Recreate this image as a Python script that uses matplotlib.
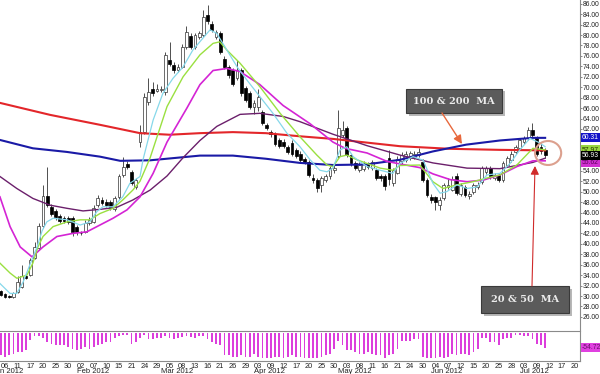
import numpy as np
import matplotlib
matplotlib.use('Agg')
import matplotlib.pyplot as plt
from matplotlib.patches import Rectangle, Ellipse, FancyArrowPatch
from matplotlib.transforms import blended_transform_factory

plt.rcParams['font.family'] = ['Liberation Sans', 'DejaVu Sans']

# trading day index: 0 = 3 Jan 2012, first candle drawn is 5 Jan (index 2)
first_day = 2

opens = [30.9, 30.4, 29.95, 29.9, 30.8, 31.8, 33.9, 34.0, 37.3, 39.2,
         43.4, 49.1, 47.1, 46.2, 45.3, 44.9, 45.0, 45.0, 43.2, 42.1,
         42.3, 44.0, 44.2, 47.4, 48.4, 48.1, 48.1, 46.6, 49.0, 53.2,
         55.2, 53.8, 50.9, 59.6, 61.5, 67.2, 69.6, 69.3, 69.4, 69.0,
         75.2, 74.3, 73.3, 73.9, 77.8, 79.8, 77.8, 79.6, 80.0, 83.8,
         82.2, 79.7, 80.3, 75.5, 73.9, 73.3, 71.7, 73.3, 69.8, 68.8,
         66.3, 66.3, 65.3, 62.8, 61.4, 61.0, 59.8, 59.6, 58.6, 59.4,
         58.0, 57.3, 56.2, 55.7, 52.7, 52.2, 51.3, 52.2, 52.9, 54.1,
         56.8, 60.9, 62.1, 57.0, 55.4, 54.2, 54.3, 55.2, 54.6, 54.1,
         52.9, 52.9, 56.4, 51.6, 53.6, 55.8, 56.1, 56.5, 56.7, 57.1,
         55.7, 52.2, 49.0, 48.9, 47.4, 48.7, 50.8, 50.4, 52.9, 49.5,
         50.9, 49.1, 50.0, 50.9, 51.9, 53.8, 54.5, 52.6, 53.2, 52.3,
         55.1, 56.1, 57.6, 58.3, 59.6, 60.2, 61.8, 60.2, 58.6, 57.9]
highs = [31.2, 30.6, 30.2, 30.8, 33.8, 36.0, 34.4, 37.3, 40.3, 44.0,
         51.3, 54.8, 47.6, 46.6, 45.8, 45.3, 45.4, 45.3, 43.6, 42.5,
         44.6, 45.2, 47.4, 49.3, 48.9, 48.5, 48.4, 49.2, 53.4, 56.7,
         55.8, 54.2, 52.6, 62.8, 68.8, 71.8, 71.0, 70.6, 70.2, 76.8,
         78.7, 74.8, 74.4, 78.2, 81.7, 80.3, 80.4, 80.8, 84.8, 85.7,
         82.6, 81.0, 80.7, 76.0, 74.2, 73.7, 75.2, 73.7, 70.2, 69.2,
         67.5, 69.6, 65.7, 63.2, 61.9, 61.4, 60.2, 60.0, 59.0, 59.8,
         58.4, 57.7, 56.6, 56.0, 53.4, 52.6, 53.0, 53.4, 55.0, 55.4,
         65.6, 63.6, 62.5, 57.3, 55.8, 55.7, 55.8, 55.6, 56.0, 54.5,
         53.3, 53.3, 58.0, 54.5, 56.9, 57.5, 57.7, 57.8, 57.7, 58.4,
         56.2, 52.6, 49.6, 49.2, 49.0, 51.6, 52.6, 53.0, 53.6, 51.6,
         51.3, 50.1, 51.7, 51.8, 55.0, 54.9, 54.9, 53.6, 53.6, 55.8,
         56.8, 57.7, 59.0, 60.3, 60.6, 62.3, 63.1, 60.6, 59.3, 58.3]
lows = [30.0, 29.6, 29.6, 29.7, 30.5, 31.5, 33.2, 33.8, 37.0, 38.8,
        43.0, 47.0, 45.4, 44.6, 44.0, 43.9, 43.8, 41.5, 41.6, 41.6,
        42.0, 43.6, 43.9, 47.0, 47.5, 47.0, 46.4, 46.2, 48.6, 52.8,
        54.3, 51.2, 50.5, 58.6, 61.0, 66.5, 68.4, 69.0, 69.0, 68.6,
        74.0, 72.8, 72.9, 73.6, 77.4, 77.3, 77.4, 79.2, 79.7, 82.2,
        80.6, 79.3, 76.4, 73.4, 71.8, 70.3, 71.3, 68.3, 67.2, 65.9,
        64.9, 65.4, 62.7, 61.8, 60.5, 58.8, 58.4, 58.3, 57.2, 56.9,
        56.4, 55.7, 55.2, 52.8, 51.7, 50.0, 50.0, 51.8, 52.5, 53.6,
        56.5, 60.5, 56.6, 55.0, 54.1, 53.8, 53.9, 54.3, 54.2, 52.2,
        52.0, 50.4, 51.3, 51.0, 53.3, 55.3, 55.6, 56.0, 56.3, 56.6,
        51.8, 49.0, 47.8, 46.5, 46.5, 48.4, 50.5, 50.1, 49.3, 49.1,
        49.0, 48.6, 49.6, 50.5, 51.5, 53.3, 52.5, 52.2, 51.8, 51.9,
        54.7, 55.7, 57.2, 57.9, 59.2, 59.8, 60.5, 56.9, 57.2, 56.5]
closes = [30.2, 29.9, 29.85, 30.6, 32.7, 33.8, 33.4, 36.9, 39.4, 43.4,
          49.1, 47.4, 45.8, 45.2, 44.4, 44.3, 44.1, 42.2, 42.3, 42.0,
          44.0, 44.6, 46.9, 48.8, 47.9, 47.4, 46.8, 48.8, 52.9, 54.8,
          54.8, 51.6, 52.2, 61.5, 68.2, 69.0, 68.9, 69.6, 69.7, 76.2,
          74.4, 73.3, 73.9, 77.8, 80.6, 77.8, 80.0, 80.3, 83.5, 82.6,
          81.0, 80.6, 76.8, 73.9, 72.3, 70.7, 73.3, 68.8, 67.6, 66.3,
          66.9, 68.2, 63.1, 62.2, 61.0, 59.2, 58.8, 58.8, 57.6, 57.3,
          56.8, 56.1, 55.7, 53.2, 52.2, 50.6, 52.6, 52.9, 54.5, 54.6,
          62.2, 61.8, 57.0, 55.4, 54.6, 55.1, 55.2, 54.8, 55.6, 52.6,
          52.6, 51.0, 52.4, 54.1, 56.3, 57.0, 57.2, 57.4, 57.3, 57.6,
          52.2, 49.4, 48.4, 48.1, 48.4, 51.3, 51.3, 52.5, 49.7, 51.2,
          49.4, 49.6, 51.3, 51.3, 54.5, 54.5, 52.9, 53.2, 52.2, 55.4,
          56.4, 57.3, 58.6, 59.9, 60.2, 61.8, 60.9, 57.3, 57.7, 56.93]

# Williams %R style histogram (lower panel)
wr_values = [-82, -88, -82, -76, -70, -70, -64, -25, -12, -10,
             -20, -35, -40, -44, -44, -46, -52, -58, -64, -58,
             -52, -58, -52, -46, -40, -35, -32, -17, -11, -6,
             -6, -40, -32, -17, -8, -23, -23, -20, -17, -11,
             -20, -23, -20, -14, -11, -14, -17, -12, -11, -23,
             -35, -40, -46, -82, -82, -88, -90, -82, -88, -88,
             -76, -88, -94, -94, -94, -88, -88, -94, -88, -82,
             -88, -88, -94, -94, -94, -94, -88, -82, -76, -58,
             -29, -46, -64, -64, -70, -76, -76, -70, -76, -82,
             -82, -94, -82, -76, -58, -29, -29, -29, -23, -23,
             -88, -94, -94, -94, -88, -94, -88, -76, -82, -76,
             -76, -82, -70, -58, -17, -17, -35, -35, -46, -23,
             -17, -17, -8, -8, -11, -11, -23, -40, -46, -54.72]

# moving averages (day index, price)
cyan_x = [1.8, 4.2, 5.8, 7.3, 8.9, 10.6, 11.8, 12.9, 14.4, 17.7, 20.8, 23.1, 24.8, 26.2, 28.6,
          30.9, 32.6, 35.0, 35.7, 38.1, 40.4, 42.8, 45.2, 47.5, 49.9, 51.6, 53.2, 55.6, 58.0, 60.3,
          63.4, 66.5, 69.8, 72.9, 75.3, 77.6, 79.3, 80.7, 82.4, 84.0, 85.5, 88.8, 91.9, 94.9, 96.6,
          99.7, 102.1, 104.4, 106.1, 107.7, 110.1, 112.5, 114.9, 117.2, 120.3, 122.7, 125.0, 127.4, 129.8, 131.0]
cyan_y = [32.4, 30.5, 30.5, 32.7, 36.0, 39.4, 42.5, 44.2, 44.9, 44.6, 43.6, 44.2, 46.2, 47.1, 47.1,
          49.0, 51.6, 52.9, 56.1, 63.7, 68.8, 71.7, 73.9, 77.1, 79.4, 81.0, 80.3, 77.1, 73.9, 71.4,
          68.2, 65.0, 61.2, 58.6, 56.1, 54.1, 53.8, 54.5, 58.0, 58.6, 56.7, 54.8, 54.1, 53.5, 55.4,
          56.7, 56.0, 51.6, 49.7, 50.0, 51.3, 50.6, 50.9, 53.2, 53.5, 55.4, 58.0, 60.2, 59.3, 58.6]
green_x = [1.8, 4.2, 5.8, 8.2, 9.6, 10.8, 12.0, 14.4, 17.7, 20.8, 23.1, 25.5, 28.6, 30.9, 33.3,
           35.0, 37.4, 41.4, 45.2, 49.2, 52.3, 53.9, 55.6, 58.7, 63.4, 68.2, 72.9, 76.9, 79.3, 80.7,
           82.4, 84.0, 86.4, 88.8, 91.9, 94.9, 96.6, 101.3, 104.4, 106.8, 110.1, 113.9, 117.2, 120.3,
           124.3, 128.1, 131.0]
green_y = [36.3, 34.4, 33.4, 34.0, 36.3, 39.4, 41.4, 43.3, 44.2, 44.6, 44.6, 45.8, 46.8, 48.4, 50.3,
           52.0, 56.5, 66.3, 72.0, 76.2, 78.4, 78.7, 77.1, 74.6, 70.1, 65.0, 60.5, 57.0, 55.1, 54.8,
           56.7, 57.0, 56.1, 55.4, 54.5, 54.1, 55.0, 55.1, 51.9, 50.6, 51.3, 51.9, 52.6, 53.2,
           55.1, 58.3, 58.0]
mag_x = [1.8, 4.2, 6.6, 9.4, 12.0, 15.3, 19.1, 22.4, 25.5, 28.6, 31.9, 35.0, 38.1, 41.4, 46.1,
         49.2, 52.3, 55.6, 58.7, 63.4, 68.9, 75.3, 80.7, 83.6, 88.8, 93.5, 96.6, 101.3, 104.4, 108.5,
         112.5, 116.3, 120.3, 124.3, 128.1, 131.0]
mag_y = [49.0, 43.3, 39.4, 37.5, 39.4, 41.4, 42.0, 42.3, 43.6, 44.9, 46.5, 49.0, 53.5, 59.5, 66.0,
         70.5, 73.2, 73.6, 73.0, 70.5, 66.5, 63.0, 59.5, 58.3, 57.4, 55.8, 55.3, 54.6, 53.4, 52.3,
         51.9, 52.2, 53.2, 54.8, 55.9, 55.9]
pur_x = [1.8, 5.8, 9.6, 13.7, 17.7, 21.5, 25.5, 29.5, 33.3, 37.4, 41.4, 45.2, 49.2, 53.2, 58.7,
         63.4, 68.9, 72.9, 80.7, 88.8, 96.6, 104.4, 112.5, 120.3, 128.1, 131.0]
pur_y = [52.9, 50.6, 48.7, 47.4, 46.8, 46.3, 46.6, 47.0, 48.4, 50.3, 53.0, 56.5, 59.8, 62.5, 64.8,
         65.0, 64.4, 63.4, 61.0, 58.8, 57.0, 55.5, 54.5, 54.4, 55.6, 56.4]
red_x = [1.8, 13.7, 25.5, 35.0, 42.0, 49.2, 57.0, 64.8, 72.9, 80.7, 96.6, 108.5, 120.3, 131.0]
red_y = [67.0, 64.7, 62.8, 61.2, 60.9, 61.2, 61.4, 61.2, 60.6, 60.1, 58.7, 58.2, 58.0, 57.9]
blue_x = [1.8, 9.6, 17.7, 25.5, 30.3, 37.4, 49.2, 57.0, 64.8, 72.9, 80.7, 88.6, 96.6, 104.4,
          112.3, 120.3, 128.1, 131.0]
blue_y = [59.9, 58.3, 57.6, 56.7, 55.9, 56.0, 56.9, 56.9, 56.3, 55.5, 55.1, 55.2, 56.1, 57.7,
          59.0, 59.8, 60.3, 60.3]

# axis labels
price_ticks = list(range(26, 88, 2))
day_labels = ['06', '11', '17', '20', '25', '30', '02', '07', '10', '15', '21', '24', '29',
              '05', '08', '13', '16', '21', '26', '29', '03', '09', '12', '17', '20', '25', '30',
              '03', '08', '11', '16', '21', '24', '30', '04', '07', '12', '15', '20', '25', '28',
              '03', '09', '12', '17', '20']
month_names = ['Jan 2012', 'Feb 2012', 'Mar 2012', 'Apr 2012', 'May 2012', 'Jun 2012', 'Jul 2012']
month_start = [0, 20, 40, 62, 82, 104, 125]

# last values shown on the price scale
last_labels = [('55.62', 55.62, '#d030d0', '#5a005a'),
               ('57.97', 57.97, '#99d640', '#223300'),
               ('60.31', 60.31, '#1414c8', 'white'),
               ('56.93', 56.93, '#000000', 'white')]

W, H = 600, 374
fig = plt.figure(figsize=(W / 100, H / 100), dpi=100)
ax = fig.add_axes([0, 1 - 330 / H, 580 / W, 330 / H])
ind = fig.add_axes([0, 1 - 361 / H, 580 / W, 30 / H])

xlim = (1.815, 139.26)

# candles
o = np.array(opens)
hi = np.array(highs)
lo = np.array(lows)
c = np.array(closes)
days = np.arange(first_day, first_day + len(c))
up = c >= o
body_low = np.minimum(o, c)
body_h = np.maximum(np.abs(c - o), 0.15)

ax.vlines(days, lo, hi, color='#333333', lw=0.6, zorder=3)
ax.bar(days[up], body_h[up], bottom=body_low[up], width=0.66,
       facecolor='white', edgecolor='#333333', lw=0.5, zorder=4)
ax.bar(days[~up], body_h[~up], bottom=body_low[~up], width=0.66,
       facecolor='black', edgecolor='black', lw=0.5, zorder=4)

# moving averages
ax.plot(red_x, red_y, color='#e3262a', lw=1.5, zorder=5)
ax.plot(blue_x, blue_y, color='#1a1aa6', lw=1.5, zorder=5)
ax.plot(pur_x, pur_y, color='#6b1f6b', lw=1.0, zorder=5)
ax.plot(mag_x, mag_y, color='#d424d4', lw=1.2, zorder=5)
ax.plot(green_x, green_y, color='#9ae040', lw=1.0, zorder=5)
ax.plot(cyan_x, cyan_y, color='#86d8ea', lw=0.9, zorder=5)

ax.set_xlim(*xlim)
ax.set_ylim(23.49, 86.71)
ax.yaxis.tick_right()
ax.set_yticks(price_ticks)
ax.set_yticklabels(['%.2f' % v for v in price_ticks])
ax.tick_params(axis='y', length=1.5, width=0.5, colors='#555555', labelcolor='#222222',
               labelsize=4.9, pad=0.6)
ax.set_xticks([])
for s in ['left', 'top', 'bottom']:
    ax.spines[s].set_visible(False)
ax.spines['right'].set_color('#8a8a8a')
ax.spines['right'].set_linewidth(0.8)

# circle around the last bars
ax.add_patch(Ellipse((131.7, 57.4), 6.2, 4.6, fill=False, ec='#dca08e', lw=1.5, zorder=6))

# last value boxes on the right scale
tr = blended_transform_factory(ax.transAxes, ax.transData)
for txt, val, bg, fg in last_labels:
    ax.text(1.003, val, txt, transform=tr, ha='left', va='center', fontsize=4.9,
            color=fg, clip_on=False, zorder=7,
            bbox=dict(boxstyle='square,pad=0.15', fc=bg, ec='none'))

# lower panel
ind.bar(days, wr_values, width=0.42, color='#dc3edc', zorder=2)
ind.set_xlim(*xlim)
ind.set_ylim(-103.7, 7.4)
ind.set_yticks([])
ind.set_xticks(np.arange(3, 3 + 3 * len(day_labels), 3))
ind.set_xticklabels(day_labels)
ind.tick_params(axis='x', length=0, pad=1.2, labelsize=5.3, labelcolor='#222222')
ind.spines['left'].set_visible(False)
for s in ['top', 'bottom', 'right']:
    ind.spines[s].set_color('#8a8a8a')
    ind.spines[s].set_linewidth(0.8)
tr2 = blended_transform_factory(ind.transData, ind.transAxes)
for name, start in zip(month_names, month_start):
    ind.text(start, -0.36, name, transform=tr2, ha='left', va='center',
             fontsize=5.5, color='#222222', clip_on=False)
tr3 = blended_transform_factory(ind.transAxes, ind.transData)
ind.text(1.003, wr_values[-1], '%.2f' % wr_values[-1], transform=tr3, ha='left', va='center',
         fontsize=4.9, color='#6a106a', clip_on=False,
         bbox=dict(boxstyle='square,pad=0.15', fc='#e040e0', ec='none'))


# note boxes (pixel positions, top-left origin)
def note_box(x0, y0, w, h, text):
    fx, fy = x0 / W, 1 - (y0 + h) / H
    fig.add_artist(Rectangle((fx + 2.5 / W, fy - 2.5 / H), w / W, h / H,
                             transform=fig.transFigure, fc='#b8b8b8', ec='none'))
    fig.add_artist(Rectangle((fx, fy), w / W, h / H, transform=fig.transFigure,
                             fc='#5b5b5b', ec='#3a3a3a', lw=0.8))
    fig.text(fx + w / W / 2, fy + h / H / 2, text, ha='center', va='center',
             fontsize=7, color='#ececec', fontweight='bold', family='DejaVu Serif')


def arrow(x0, y0, x1, y1, color, lw):
    fig.add_artist(FancyArrowPatch((x0 / W, 1 - y0 / H), (x1 / W, 1 - y1 / H),
                                   transform=fig.transFigure,
                                   arrowstyle='-|>,head_length=0.5,head_width=0.25',
                                   mutation_scale=10, color=color, lw=lw,
                                   shrinkA=0, shrinkB=0))


note_box(406, 89, 96, 24, '100 & 200  MA')
note_box(481, 286, 88, 27, '20 & 50  MA')
arrow(442, 113, 462, 144, '#e8683c', 1.0)
arrow(532, 286, 535, 166, '#d02a2a', 0.8)

fig.savefig('out.png', dpi=100)
